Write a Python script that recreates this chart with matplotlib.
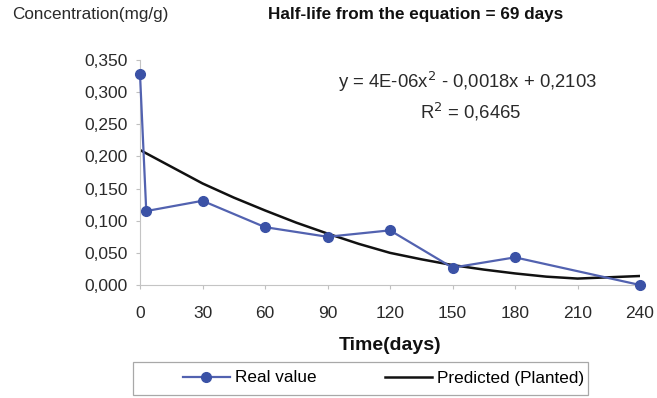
import matplotlib.pyplot as plt
from matplotlib.patches import Rectangle
from matplotlib.ticker import FuncFormatter

plt.rcParams['font.family'] = ['Liberation Sans', 'DejaVu Sans']

# measured concentration
days = [0, 3, 30, 60, 90, 120, 150, 180, 240]
real = [0.328, 0.115, 0.131, 0.090, 0.075, 0.085, 0.027, 0.043, 0.000]

# trend line
pred_days = [0, 15, 30, 45, 60, 75, 90, 105, 120, 135, 150, 165, 180, 195, 210, 225, 240]
pred = [0.210, 0.184, 0.158, 0.136, 0.116, 0.097, 0.080, 0.064, 0.050,
        0.040, 0.031, 0.024, 0.018, 0.013, 0.010, 0.012, 0.014]

xticks = [0, 30, 60, 90, 120, 150, 180, 210, 240]
yticks = [0.0, 0.05, 0.10, 0.15, 0.20, 0.25, 0.30, 0.35]

W, H = 657, 398
fig = plt.figure(figsize=(W / 100, H / 100), dpi=100)
ax = fig.add_axes([140 / W, 1 - 285 / H, 500 / W, 225 / H])

l1, = ax.plot(days, real, color="#5262b0", lw=1.6, marker="o", ms=7,
              mfc="#3b52a6", mec="#3b52a6", label="Real value", clip_on=False, zorder=3)
l2, = ax.plot(pred_days, pred, color="#111111", lw=1.8, label="Predicted (Planted)", zorder=2)

ax.set_xlim(0, 240)
ax.set_ylim(0, 0.35)
ax.set_xticks(xticks)
ax.set_yticks(yticks)
ax.yaxis.set_major_formatter(FuncFormatter(lambda v, p: f"{v:.3f}".replace(".", ",")))
ax.tick_params(labelsize=12.5, colors="#2a2a2a", length=3, color="#c0c0c0")
ax.tick_params(axis="x", pad=12)
ax.tick_params(axis="y", pad=6)
for s in ["top", "right"]:
    ax.spines[s].set_visible(False)
for s in ["left", "bottom"]:
    ax.spines[s].set_color("#c4c4c4")

fig.text(12 / W, 1 - 15 / H, "Concentration(mg/g)", fontsize=12.3, va="center", ha="left", color="#2a2a2a")
fig.text(268 / W, 1 - 15 / H, "Half-life from the equation = 69 days", fontsize=12.3,
         fontweight="bold", va="center", ha="left", color="#111111")
fig.text(468 / W, 1 - 82 / H, "y = 4E-06x$^2$ - 0,0018x + 0,2103", fontsize=13.3,
         va="center", ha="center", color="#2a2a2a")
fig.text(471 / W, 1 - 112 / H, "R$^2$ = 0,6465", fontsize=13.3,
         va="center", ha="center", color="#2a2a2a")
fig.text(390 / W, 1 - 346 / H, "Time(days)", fontsize=14, fontweight="bold",
         va="center", ha="center", color="#111111")

# legend box drawn separately so it can be wider than its entries
fig.patches.append(Rectangle((133 / W, 1 - 395 / H), 455 / W, 33 / H, transform=fig.transFigure,
                             fill=False, edgecolor="#a8a8a8", lw=0.9))
leg = fig.legend(handles=[l1, l2], loc="center left", bbox_to_anchor=(183 / W, 1 - 378 / H),
                 ncol=2, fontsize=12.3, frameon=False, handlelength=2.75,
                 handletextpad=0.3, columnspacing=4.0, borderpad=0, borderaxespad=0)

fig.savefig("out.png", dpi=100)
